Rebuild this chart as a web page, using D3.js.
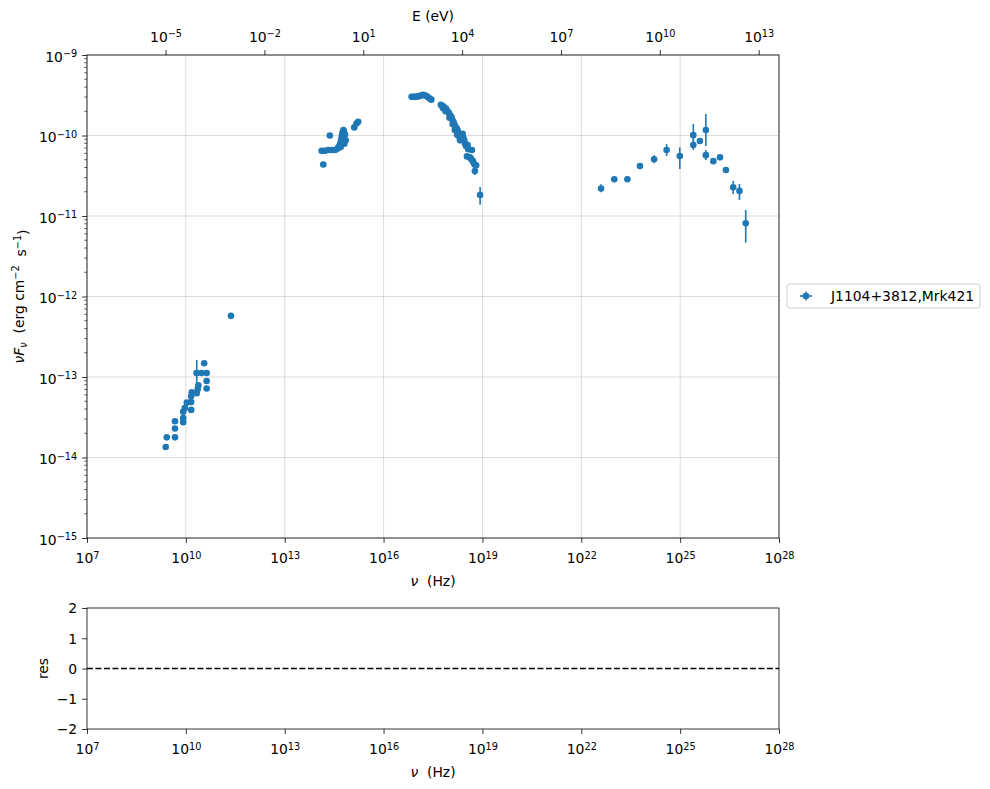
<!DOCTYPE html>
<html>
<head>
<meta charset="utf-8">
<script src="https://cdn.jsdelivr.net/npm/d3@7"></script>
<style>
body{margin:0;background:#fff;}
svg text{font-family:"DejaVu Sans",sans-serif;white-space:pre;}
</style>
</head>
<body>
<svg id="c" width="990" height="789"></svg>
<script>
// ---------------- data ----------------
const seriesName = "J1104+3812,Mrk421";
// frequency (Hz) and nuFnu (erg cm^-2 s^-1)
const radioNu = [2.45e9,2.63e9,4.68e9,4.68e9,4.68e9,8.3e9,8.3e9,8.3e9,9.3e9,1.07e10,1.45e10,1.45e10,1.45e10,1.51e10,2.14e10,2.29e10,2.4e10,2.14e10,3.0e10,3.6e10,4.27e10,4.27e10,4.27e10,2.34e11];
const radioF  = [1.35e-14,1.78e-14,1.78e-14,2.29e-14,2.82e-14,2.75e-14,3.1e-14,3.7e-14,4.1e-14,4.8e-14,3.9e-14,4.9e-14,5.75e-14,6.45e-14,6.3e-14,7.1e-14,7.9e-14,1.12e-13,1.12e-13,1.48e-13,1.12e-13,8.9e-14,7.2e-14,5.75e-13];
const optNu = [1.48e14,1.32e14,1.66e14,2.09e14,2.69e14,3.39e14,4.07e14,2.34e14,4.27e14,4.79e14,5.13e14,5.37e14,5.62e14,6.03e14,6.76e14,7.08e14,6.46e14,1.29e15,1.51e15,1.70e15,5.0e14,5.75e14,6.3e14];
const optF  = [4.37e-11,6.45e-11,6.45e-11,6.6e-11,6.6e-11,6.6e-11,6.9e-11,1.0e-10,7.2e-11,7.9e-11,8.7e-11,9.8e-11,1.07e-10,1.17e-10,1.02e-10,8.7e-11,7.9e-11,1.26e-10,1.41e-10,1.48e-10,7.2e-11,9.1e-11,1.1e-10];
const xrayNu = [7.08e16,7.94e16,8.91e16,1.0e17,1.12e17,1.26e17,1.41e17,1.58e17,1.78e17,2.0e17,2.24e17,2.51e17,2.82e17,
  5.50e17,6.03e17,6.61e17,7.24e17,7.94e17,6.31e17,7.59e17,8.71e17,9.55e17,1.05e18,1.0e18,1.15e18,1.20e18,1.32e18,1.26e18,1.41e18,1.51e18,1.45e18,1.66e18,1.78e18,1.86e18,1.70e18,2.0e18,2.09e18,2.24e18,2.51e18,2.63e18,2.82e18,2.95e18,3.16e18,3.55e18,3.72e18,4.79e18,3.39e18,4.17e18,4.47e18,5.01e18,5.25e18,5.75e18,6.46e18];
const xrayF  = [3.02e-10,3.02e-10,3.02e-10,3.05e-10,3.05e-10,3.09e-10,3.16e-10,3.2e-10,3.16e-10,3.09e-10,2.99e-10,2.88e-10,2.79e-10,
  2.40e-10,2.34e-10,2.29e-10,2.19e-10,2.14e-10,2.19e-10,2.0e-10,2.0e-10,1.91e-10,1.78e-10,1.66e-10,1.70e-10,1.58e-10,1.48e-10,1.38e-10,1.38e-10,1.29e-10,1.17e-10,1.23e-10,1.15e-10,1.07e-10,1.02e-10,9.55e-11,8.71e-11,9.77e-11,1.05e-10,9.33e-11,8.71e-11,7.94e-11,7.41e-11,7.59e-11,6.76e-11,6.61e-11,5.50e-11,5.37e-11,5.13e-11,4.90e-11,4.68e-11,4.37e-11,4.27e-11];
const gammaNu = [1.0e23,2.51e23,6.03e23,3.98e25,1.02e26,1.62e26,2.45e26];
const gammaF  = [2.86e-11,2.86e-11,4.18e-11,8.55e-11,4.8e-11,5.35e-11,3.72e-11];
// points with visible error bars: nu, value, lower, upper
const errNu  = [2.14e10,5.89e18,8.51e18,3.98e22,1.62e24,3.89e24,9.77e24,2.51e25,2.51e25,6.03e25,6.03e25,4.07e26,6.31e26,9.77e26];
const errF   = [1.12e-13,3.63e-11,1.82e-11,2.2e-11,5.06e-11,6.6e-11,5.56e-11,1.01e-10,7.6e-11,1.17e-10,5.7e-11,2.27e-11,2.05e-11,8.1e-12];
const errLo  = [6.9e-14,3.24e-11,1.38e-11,1.97e-11,4.52e-11,5.56e-11,3.84e-11,7.26e-11,6.6e-11,7.41e-11,4.97e-11,1.87e-11,1.58e-11,4.66e-12];
const errHi  = [1.63e-13,3.98e-11,2.29e-11,2.48e-11,5.68e-11,7.83e-11,7.13e-11,1.39e-10,8.79e-11,1.85e-10,6.6e-11,2.72e-11,2.5e-11,1.19e-11];
const xTicks = [1e7,1e10,1e13,1e16,1e19,1e22,1e25,1e28];
const yTicks = [1e-15,1e-14,1e-13,1e-12,1e-11,1e-10,1e-9];
const eTicks = [1e-5,1e-2,1e1,1e4,1e7,1e10,1e13];
const resTicks = [-2,-1,0,1,2];
const hPlanck = 4.135667e-15; // eV s

// ---------------- layout ----------------
const svg = d3.select("#c");
const L = 87, R = 779, T = 55, B = 538, RT = 608, RB = 729;
const blue = "#1f77b4";
const fs = 13.9;

const x = d3.scaleLog().domain([1e7,1e28]).range([L,R]);
const xE = d3.scaleLog().domain([1e7*hPlanck,1e28*hPlanck]).range([L,R]);
const y = d3.scaleLog().domain([1e-15,1e-9]).range([B,T]);
const yr = d3.scaleLinear().domain([-2,2]).range([RB,RT]);

function supLabel(sel, v){
  const e = Math.round(Math.log10(v));
  const t = sel.text(null);
  t.append("tspan").text("10");
  t.append("tspan").attr("font-size", fs*0.7).attr("dy", "-0.45em").text(String(e).replace("-", "\u2212"));
}

// grid
const g = svg.append("g");
g.selectAll(".gx").data(xTicks).join("line")
  .attr("x1", d=>x(d)).attr("x2", d=>x(d)).attr("y1", T).attr("y2", B)
  .attr("stroke", "#b0b0b0").attr("stroke-opacity", 0.55).attr("stroke-width", 0.8);
g.selectAll(".gy").data(yTicks).join("line")
  .attr("y1", d=>y(d)).attr("y2", d=>y(d)).attr("x1", L).attr("x2", R)
  .attr("stroke", "#b0b0b0").attr("stroke-opacity", 0.55).attr("stroke-width", 0.8);

// axes main
function styleAxis(ax){
  ax.select(".domain").remove();
  ax.selectAll(".tick line").attr("stroke", "#000").attr("stroke-width", 0.8);
  ax.selectAll(".tick text").attr("font-size", fs).attr("fill", "#000");
}
const axB = svg.append("g").attr("transform", `translate(0,${B})`)
  .call(d3.axisBottom(x).tickValues(xTicks).tickSize(4.9).tickPadding(4.9));
styleAxis(axB);
axB.selectAll(".tick text").attr("dy", "1.1em").each(function(d){ supLabel(d3.select(this), d); });

const axT = svg.append("g").attr("transform", `translate(0,${T})`)
  .call(d3.axisTop(xE).tickValues(eTicks).tickSize(4.9).tickPadding(4.9));
styleAxis(axT);
axT.selectAll(".tick text").attr("dy", "-0.25em").each(function(d){ supLabel(d3.select(this), d); });

const axL = svg.append("g").attr("transform", `translate(${L},0)`)
  .call(d3.axisLeft(y).tickValues(yTicks).tickSize(4.9).tickPadding(4.9));
styleAxis(axL);
axL.selectAll(".tick text").attr("dy", "0.45em").each(function(d){ supLabel(d3.select(this), d); });

// minor y ticks
const minorY = [];
for (let k=-15;k<-9;k++) for (let m=2;m<=9;m++) minorY.push(m*Math.pow(10,k));
svg.append("g").selectAll("line").data(minorY).join("line")
  .attr("x1", L-2.8).attr("x2", L).attr("y1", d=>y(d)).attr("y2", d=>y(d))
  .attr("stroke", "#000").attr("stroke-width", 0.6);

// frame
svg.append("rect").attr("x", L).attr("y", T).attr("width", R-L).attr("height", B-T)
  .attr("fill", "none").attr("stroke", "#000").attr("stroke-width", 0.8);

// error bars
const pts = svg.append("g");
pts.selectAll(".eb").data(errNu.map((n,i)=>({n, lo:errLo[i], hi:errHi[i], v:errF[i]}))).join("line")
  .attr("x1", d=>x(d.n)).attr("x2", d=>x(d.n)).attr("y1", d=>y(d.lo)).attr("y2", d=>y(d.hi))
  .attr("stroke", blue).attr("stroke-width", 1.6);

// points
const allPts = [];
[[radioNu,radioF],[optNu,optF],[xrayNu,xrayF],[gammaNu,gammaF],[errNu,errF]].forEach(([a,b])=>{
  a.forEach((n,i)=>allPts.push({n, v:b[i]}));
});
pts.selectAll("circle").data(allPts).join("circle")
  .attr("cx", d=>x(d.n)).attr("cy", d=>y(d.v)).attr("r", 3.3).attr("fill", blue);

// labels main
function nuHzLabel(yPos){
  const t = svg.append("text").attr("x", (L+R)/2).attr("y", yPos).attr("text-anchor", "middle").attr("font-size", fs);
  t.append("tspan").attr("font-style", "italic").text("ν");
  t.append("tspan").text("\u00a0\u00a0(Hz)");
}
nuHzLabel(586);
svg.append("text").attr("x", (L+R)/2).attr("y", 21).attr("text-anchor", "middle").attr("font-size", fs)
  .text("E (eV)");
const yl = svg.append("text").attr("transform", `translate(24,${(T+B)/2}) rotate(-90)`)
  .attr("text-anchor", "middle").attr("font-size", fs);
yl.append("tspan").attr("font-style", "italic").text("ν");
yl.append("tspan").attr("font-style", "italic").text("F");
yl.append("tspan").attr("font-style", "italic").attr("font-size", fs*0.7).attr("dy", "0.3em").text("ν");
yl.append("tspan").attr("dy", "-0.2em").text("\u00a0\u00a0(erg cm");
yl.append("tspan").attr("font-size", fs*0.7).attr("dy", "-0.5em").text("\u22122");
yl.append("tspan").attr("dy", "0.5em").text("\u00a0\u00a0s");
yl.append("tspan").attr("font-size", fs*0.7).attr("dy", "-0.5em").text("\u22121");
yl.append("tspan").attr("dy", "0.5em").text(")");

// legend
const lg = svg.append("g");
lg.append("rect").attr("x", 787).attr("y", 284).attr("width", 193).attr("height", 24).attr("rx", 3)
  .attr("fill", "#fff").attr("stroke", "#d0d0d0").attr("stroke-width", 1);
lg.append("line").attr("x1", 800).attr("x2", 812).attr("y1", 296).attr("y2", 296).attr("stroke", blue).attr("stroke-width", 1.6);
lg.append("line").attr("x1", 806).attr("x2", 806).attr("y1", 291.5).attr("y2", 300.5).attr("stroke", blue).attr("stroke-width", 1.6);
lg.append("circle").attr("cx", 806).attr("cy", 296).attr("r", 3.3).attr("fill", blue);
lg.append("text").attr("x", 831).attr("y", 301).attr("font-size", fs).text(seriesName);

// ---------------- residual panel ----------------
const axRB = svg.append("g").attr("transform", `translate(0,${RB})`)
  .call(d3.axisBottom(x).tickValues(xTicks).tickSize(4.9).tickPadding(4.9));
styleAxis(axRB);
axRB.selectAll(".tick text").attr("dy", "1.1em").each(function(d){ supLabel(d3.select(this), d); });
const axRL = svg.append("g").attr("transform", `translate(${L},0)`)
  .call(d3.axisLeft(yr).tickValues(resTicks).tickSize(4.9).tickPadding(4.9)
    .tickFormat(d=>String(d).replace("-", "\u2212")));
styleAxis(axRL);
axRL.selectAll(".tick text").attr("dy", "0.35em");
svg.append("rect").attr("x", L).attr("y", RT).attr("width", R-L).attr("height", RB-RT)
  .attr("fill", "none").attr("stroke", "#000").attr("stroke-width", 0.8);
svg.append("line").attr("x1", x(1e7)).attr("x2", x(1e28)).attr("y1", yr(0)).attr("y2", yr(0))
  .attr("stroke", "#000").attr("stroke-width", 1.6).attr("stroke-dasharray", "5.9,2.6");
nuHzLabel(777);
svg.append("text").attr("transform", `translate(48,${(RT+RB)/2}) rotate(-90)`)
  .attr("text-anchor", "middle").attr("font-size", fs).text("res");
</script>
</body>
</html>
